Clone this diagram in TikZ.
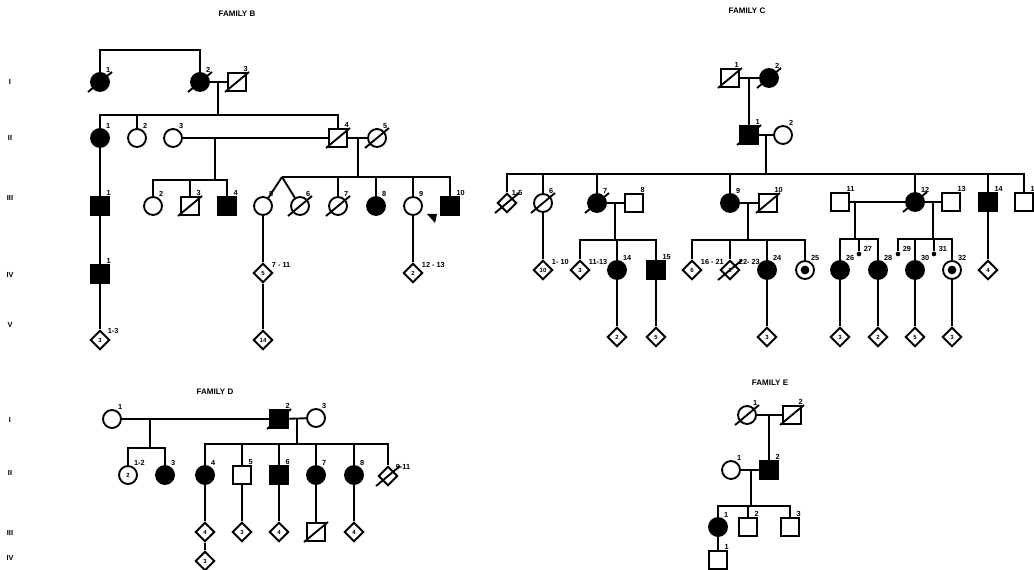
\documentclass[tikz,border=0pt]{standalone}
\usepackage{fontspec}
\setmainfont{Liberation Sans}
\usetikzlibrary{shapes.geometric}
\newcommand\dcd[1]{\draw[ln] ([shift={(-12,10)}]#1.center) -- ([shift={(12,-10)}]#1.center);}
\begin{document}
\begin{tikzpicture}[x=0.75pt,y=-0.75pt,
  ln/.style={line width=1.4pt},
  per/.style={draw, line width=1.4pt, inner sep=0pt, font=\fontsize{4.5}{5}\selectfont\bfseries},
  fem/.style={per, circle, minimum size=13.5pt},
  mal/.style={per, rectangle, minimum size=13pt},
  unk/.style={per, diamond, minimum size=14.5pt},
  aff/.style={fill=black},
  dotc/.style={fem, path picture={\fill[black] (path picture bounding box.center) circle (3.3pt);}},
  sdot/.style={circle, fill=black, inner sep=0pt, minimum size=3.5pt},
  every label/.append style={font=\fontsize{5.5}{5.5}\selectfont\bfseries, inner sep=0.6pt},
  ttl/.style={font=\fontsize{6}{7}\selectfont\bfseries},
  gen/.style={font=\fontsize{5.5}{6}\selectfont\bfseries}]
\fill[white] (0,0) rectangle (1034,570);
\useasboundingbox (0,0) rectangle (1034,570);

%%%%%%%%%%%%%%%% FAMILY B
\node[ttl] (tB) at (237,14) {FAMILY B};
\node[gen] (gBI) at (10,82) {I};
\node[gen] (gBII) at (10,138) {II};
\node[gen] (gBIII) at (10,198) {III};
\node[gen] (gBIV) at (10,275) {IV};
\node[gen] (gBV) at (10,325) {V};
% I
\node[fem,aff,label=60:1] (b11) at (100,82) {};
\node[fem,aff,label=60:2] (b12) at (200,82) {};
\node[mal,label=60:3] (b13) at (237,82) {};
\dcd{b11}\dcd{b12}\dcd{b13}
\coordinate (bT) at (150,50);
\draw[ln] (b11.north) -- (b11.north |- bT) -- (b12.north |- bT) -- (b12.north);
\draw[ln] (b12) -- (b13);
\coordinate (bm1) at (218,82);
\coordinate (bs1) at (218,115);
\draw[ln] (bm1) -- (bs1);
% II
\node[fem,aff,label=60:1] (b21) at (100,138) {};
\node[fem,label=60:2] (b22) at (137,138) {};
\node[fem,label=60:3] (b23) at (173,138) {};
\node[mal,label=60:4] (b24) at (338,138) {};
\node[fem,label=60:5] (b25) at (377,138) {};
\dcd{b24}\dcd{b25}
\draw[ln] (b21.north) -- (b21.north |- bs1) -- (b24.north |- bs1) -- (b24.north);
\draw[ln] (b22.north) -- (b22.north |- bs1);
\draw[ln] (b23) -- (b24);
\draw[ln] (b24) -- (b25);
\coordinate (bm2) at (215,138); \coordinate (bs2) at (215,180);
\draw[ln] (bm2) -- (bs2);
\coordinate (bm3) at (358,138); \coordinate (bs3) at (358,177);
\draw[ln] (bm3) -- (bs3);
% III
\node[mal,aff,label=60:1] (b31) at (100,206) {};
\node[fem,label=60:2] (b32) at (153,206) {};
\node[mal,label=60:3] (b33) at (190,206) {};
\node[mal,aff,label=60:4] (b34) at (227,206) {};
\node[fem,label=60:5] (b35) at (263,206) {};
\node[fem,label=60:6] (b36) at (300,206) {};
\node[fem,label=60:7] (b37) at (338,206) {};
\node[fem,aff,label=60:8] (b38) at (376,206) {};
\node[fem,label=60:9] (b39) at (413,206) {};
\node[mal,aff,label=60:10] (b310) at (450,206) {};
\dcd{b33}\dcd{b36}\dcd{b37}
\draw[ln] (b32.north) -- (b32.north |- bs2) -- (b34.north |- bs2) -- (b34.north);
\draw[ln] (b33.north) -- (b33.north |- bs2);
\coordinate (btw) at (282,177);
\draw[ln] (btw) -- (b310.north |- btw) -- (b310.north);
\draw[ln] (btw) -- (b35);
\draw[ln] (btw) -- (b36);
\draw[ln] (b37.north) -- (b37.north |- btw);
\draw[ln] (b38.north) -- (b38.north |- btw);
\draw[ln] (b39.north) -- (b39.north |- btw);
\draw[ln] (b21) -- (b31);
\fill[black] (427,214) -- (437,214) -- (435,223) -- cycle;
% IV, V
\node[mal,aff,label=60:1] (b41) at (100,274) {};
\node[unk,label={[label distance=1pt]30:7 - 11}] (b42) at (263,273) {5};
\node[unk,label={[label distance=1pt]30:12 - 13}] (b43) at (413,273) {2};
\node[unk,label={[label distance=1pt]40:1-3}] (b51) at (100,340) {3};
\node[unk] (b52) at (263,340) {14};
\draw[ln] (b31) -- (b41);
\draw[ln] (b41) -- (b51);
\draw[ln] (b35) -- (b42);
\draw[ln] (b42) -- (b52);
\draw[ln] (b39) -- (b43);

%%%%%%%%%%%%%%%% FAMILY C
\node[ttl] (tC) at (747,11) {FAMILY C};
% I
\node[mal,label=70:1] (c11) at (730,78) {};
\node[fem,aff,label=60:2] (c12) at (769,78) {};
\dcd{c11}\dcd{c12}
\draw[ln] (c11) -- (c12);
% II
\node[mal,aff,label=60:1] (c21) at (749,135) {};
\node[fem,label=60:2] (c22) at (783,135) {};
\dcd{c21}
\coordinate (cm1) at (749,78);
\draw[ln] (cm1) -- (c21);
\draw[ln] (c21) -- (c22);
\coordinate (cm2) at (766,135); \coordinate (cs0) at (766,174);
\draw[ln] (cm2) -- (cs0);
% III
\node[unk,label=60:1-5] (c31) at (507,203) {};
\node[fem,label=60:6] (c36) at (543,203) {};
\node[fem,aff,label=60:7] (c37) at (597,203) {};
\node[mal,label=60:8] (c38) at (634,203) {};
\node[fem,aff,label=60:9] (c39) at (730,203) {};
\node[mal,label=60:10] (c310) at (768,203) {};
\node[mal,label=60:11] (c311) at (840,202) {};
\node[fem,aff,label=60:12] (c312) at (915,202) {};
\node[mal,label=60:13] (c313) at (951,202) {};
\node[mal,aff,label=60:14] (c314) at (988,202) {};
\node[mal,label=60:1] (c315) at (1024,202) {};
\dcd{c31}\dcd{c36}\dcd{c37}\dcd{c310}\dcd{c312}
\draw[ln] (c31.north) -- (c31.north |- cs0) -- (c315.north |- cs0) -- (c315.north);
\draw[ln] (c36.north) -- (c36.north |- cs0);
\draw[ln] (c37.north) -- (c37.north |- cs0);
\draw[ln] (c39.north) -- (c39.north |- cs0);
\draw[ln] (c312.north) -- (c312.north |- cs0);
\draw[ln] (c314.north) -- (c314.north |- cs0);
\draw[ln] (c37) -- (c38);
\draw[ln] (c39) -- (c310);
\draw[ln] (c311) -- (c312);
\draw[ln] (c312) -- (c313);
\coordinate (cm3) at (615,203); \coordinate (cs3) at (615,240);
\coordinate (cm4) at (748,203); \coordinate (cs4) at (748,240);
\coordinate (cm5) at (855,202); \coordinate (cs5) at (855,239);
\coordinate (cm6) at (933,202); \coordinate (cs6) at (933,239);
\draw[ln] (cm3) -- (cs3);
\draw[ln] (cm4) -- (cs4);
\draw[ln] (cm5) -- (cs5);
\draw[ln] (cm6) -- (cs6);
% IV
\node[unk,label={[label distance=1pt]30:1- 10}] (c41) at (543,270) {10};
\node[unk,label={[label distance=1pt]30:11-13}] (c42) at (580,270) {3};
\node[fem,aff,label=60:14] (c43) at (617,270) {};
\node[mal,aff,label=60:15] (c44) at (656,270) {};
\node[unk,label={[label distance=1pt]30:16 - 21}] (c45) at (692,270) {6};
\node[unk,label={[label distance=1pt]30:22- 23}] (c46) at (730,270) {2};
\node[fem,aff,label=60:24] (c47) at (767,270) {};
\node[dotc,label=60:25] (c48) at (805,270) {};
\node[fem,aff,label=60:26] (c49) at (840,270) {};
\node[sdot,label={[label distance=1pt]20:27}] (c4a) at (859,254) {};
\node[fem,aff,label=60:28] (c4b) at (878,270) {};
\node[sdot,label={[label distance=1pt]20:29}] (c4c) at (898,254) {};
\node[fem,aff,label=60:30] (c4d) at (915,270) {};
\node[sdot,label={[label distance=1pt]20:31}] (c4e) at (934,254) {};
\node[dotc,label=60:32] (c4f) at (952,270) {};
\node[unk] (c4g) at (988,270) {4};
\dcd{c46}
\draw[ln] (c36) -- (c41);
\draw[ln] (c42.north) -- (c42.north |- cs3) -- (c44.north |- cs3) -- (c44.north);
\draw[ln] (c43.north) -- (c43.north |- cs3);
\draw[ln] (c45.north) -- (c45.north |- cs4) -- (c48.north |- cs4) -- (c48.north);
\draw[ln] (c46.north) -- (c46.north |- cs4);
\draw[ln] (c47.north) -- (c47.north |- cs4);
\draw[ln] (c49.north) -- (c49.north |- cs5) -- (c4b.north |- cs5) -- (c4b.north);
\draw[ln] (c4a) -- (c4a |- cs5);
\draw[ln] (c4c) -- (c4c |- cs6) -- (c4f.north |- cs6) -- (c4f.north);
\draw[ln] (c4d.north) -- (c4d.north |- cs6);
\draw[ln] (c4e) -- (c4e |- cs6);
\draw[ln] (c314) -- (c4g);
% V
\node[unk] (c51) at (617,337) {2};
\node[unk] (c52) at (656,337) {5};
\node[unk] (c53) at (767,337) {3};
\node[unk] (c54) at (840,337) {3};
\node[unk] (c55) at (878,337) {2};
\node[unk] (c56) at (915,337) {5};
\node[unk] (c57) at (952,337) {3};
\draw[ln] (c43) -- (c51);
\draw[ln] (c44) -- (c52);
\draw[ln] (c47) -- (c53);
\draw[ln] (c49) -- (c54);
\draw[ln] (c4b) -- (c55);
\draw[ln] (c4d) -- (c56);
\draw[ln] (c4f) -- (c57);

%%%%%%%%%%%%%%%% FAMILY D
\node[ttl] (tD) at (215,392) {FAMILY D};
\node[gen] (gDI) at (10,420) {I};
\node[gen] (gDII) at (10,473) {II};
\node[gen] (gDIII) at (10,533) {III};
\node[gen] (gDIV) at (10,558) {IV};
\node[fem,label=60:1] (d11) at (112,419) {};
\node[mal,aff,label=60:2] (d12) at (279,419) {};
\node[fem,label=60:3] (d13) at (316,418) {};
\dcd{d12}
\draw[ln] (d11) -- (d12);
\draw[ln] (d12) -- (d13);
\coordinate (dm1) at (150,419); \coordinate (ds1) at (150,448);
\coordinate (dm2) at (297,418); \coordinate (ds2) at (297,444);
\draw[ln] (dm1) -- (ds1);
\draw[ln] (dm2) -- (ds2);
\node[fem,label=60:1-2] (d21) at (128,475) {2};
\node[fem,aff,label=60:3] (d23) at (165,475) {};
\node[fem,aff,label=60:4] (d24) at (205,475) {};
\node[mal,label=60:5] (d25) at (242,475) {};
\node[mal,aff,label=60:6] (d26) at (279,475) {};
\node[fem,aff,label=60:7] (d27) at (316,475) {};
\node[fem,aff,label=60:8] (d28) at (354,475) {};
\node[unk,label={[label distance=1pt]40:9-11}] (d29) at (388,476) {};
\dcd{d29}
\draw[ln] (d21.north) -- (d21.north |- ds1) -- (d23.north |- ds1) -- (d23.north);
\draw[ln] (d24.north) -- (d24.north |- ds2) -- (d29.north |- ds2) -- (d29.north);
\draw[ln] (d25.north) -- (d25.north |- ds2);
\draw[ln] (d26.north) -- (d26.north |- ds2);
\draw[ln] (d27.north) -- (d27.north |- ds2);
\draw[ln] (d28.north) -- (d28.north |- ds2);
\node[unk] (d31) at (205,532) {4};
\node[unk] (d32) at (242,532) {3};
\node[unk] (d33) at (279,532) {4};
\node[mal] (d34) at (316,532) {};
\node[unk] (d35) at (354,532) {4};
\dcd{d34}
\node[unk] (d41) at (205,561) {3};
\draw[ln] (d24) -- (d31);
\draw[ln] (d25) -- (d32);
\draw[ln] (d26) -- (d33);
\draw[ln] (d27) -- (d34);
\draw[ln] (d28) -- (d35);
\draw[ln] (d31) -- (d41);

%%%%%%%%%%%%%%%% FAMILY E
\node[ttl] (tE) at (770,383) {FAMILY E};
\node[fem,label=60:1] (e11) at (747,415) {};
\node[mal,label=60:2] (e12) at (792,415) {};
\dcd{e11}\dcd{e12}
\draw[ln] (e11) -- (e12);
\node[fem,label=60:1] (e21) at (731,470) {};
\node[mal,aff,label=60:2] (e22) at (769,470) {};
\coordinate (em1) at (769,415);
\draw[ln] (em1) -- (e22);
\draw[ln] (e21) -- (e22);
\coordinate (em2) at (751,470); \coordinate (es2) at (751,506);
\draw[ln] (em2) -- (es2);
\node[fem,aff,label=60:1] (e31) at (718,527) {};
\node[mal,label=60:2] (e32) at (748,527) {};
\node[mal,label=60:3] (e33) at (790,527) {};
\draw[ln] (e31.north) -- (e31.north |- es2) -- (e33.north |- es2) -- (e33.north);
\draw[ln] (e32.north) -- (e32.north |- es2);
\node[mal,label=60:1] (e41) at (718,560) {};
\draw[ln] (e31) -- (e41);
\end{tikzpicture}
\end{document}
